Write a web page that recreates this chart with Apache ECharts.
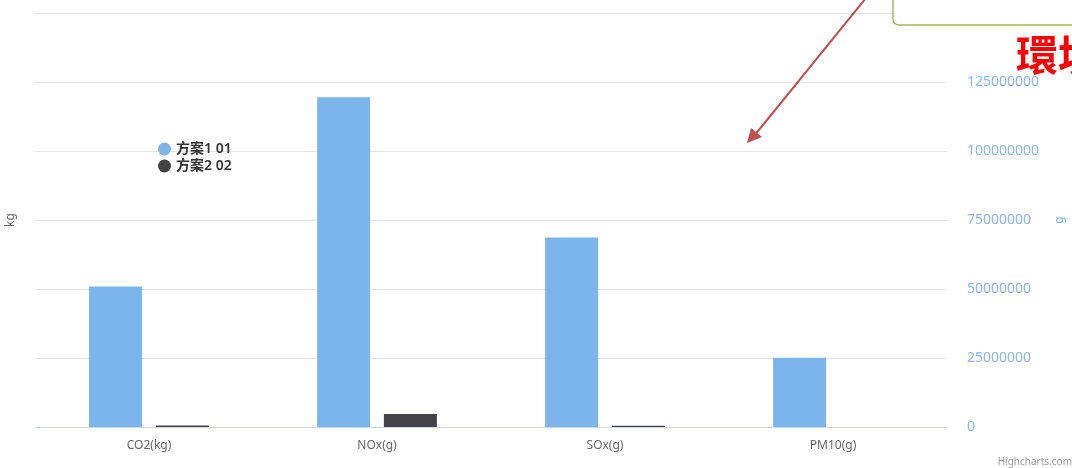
<!DOCTYPE html>
<html>
<head>
    <meta charset="utf-8" />
    <script src="https://cdn.jsdelivr.net/npm/echarts@6/dist/echarts.min.js"></script>
    <style>
        html, body { margin: 0; padding: 0; background: #fff; }
        #main { width: 1072px; height: 468px; }
    </style>
</head>
<body>
    <div id="main"></div>
    <script>
        // 数据
        var categories = ['CO2(kg)', 'NOx(g)', 'SOx(g)', 'PM10(g)']
        var plan1 = [50900000, 119500000, 68700000, 25100000]
        var plan2 = [500000, 4700000, 450000, 0]
        var seriesNames = ['方案1 01', '方案2 02']

        var font = '"Noto Sans", "Noto Sans CJK SC", sans-serif'

        var chart = echarts.init(document.getElementById('main'))

        var option = {
            animation: false,
            textStyle: { fontFamily: font },
            color: ['#7cb5ec', '#434348'],
            legend: {
                orient: 'vertical',
                left: 153,
                top: 137,
                icon: 'circle',
                itemWidth: 13,
                itemHeight: 13,
                itemGap: 3,
                textStyle: { color: '#333', fontSize: 14, fontWeight: 600, fontFamily: font },
                data: seriesNames
            },
            grid: {
                left: 35,
                right: 125,
                top: 13,
                bottom: 41,
                outerBoundsMode: 'none'
            },
            xAxis: {
                type: 'category',
                data: categories,
                axisTick: { show: false },
                axisLine: { lineStyle: { color: '#ccd6eb' } },
                axisLabel: { color: '#666', fontSize: 12, margin: 13 }
            },
            yAxis: [
                {
                    type: 'value',
                    name: 'kg',
                    nameLocation: 'middle',
                    nameGap: 18,
                    nameRotate: 90,
                    nameTextStyle: { color: '#666', fontSize: 12 },
                    min: 0,
                    max: 150000000,
                    interval: 25000000,
                    axisLabel: { show: false },
                    axisLine: { show: false },
                    axisTick: { show: false },
                    splitLine: { show: false }
                },
                {
                    type: 'value',
                    name: 'g',
                    position: 'right',
                    nameLocation: 'middle',
                    nameGap: 107,
                    nameRotate: 90,
                    nameTextStyle: { color: '#7cb5ec', fontSize: 12 },
                    min: 0,
                    max: 150000000,
                    interval: 25000000,
                    axisLine: { show: false },
                    axisTick: { show: false },
                    axisLabel: {
                        color: '#8ab8ee',
                        fontSize: 14,
                        margin: 20,
                        align: 'left',
                        formatter: function (v) { return String(v) }
                    },
                    splitLine: { lineStyle: { color: '#e6e6e6' } }
                }
            ],
            series: [
                {
                    name: seriesNames[0],
                    type: 'bar',
                    yAxisIndex: 1,
                    barWidth: 53,
                    barGap: '26%',
                    data: plan1
                },
                {
                    name: seriesNames[1],
                    type: 'bar',
                    yAxisIndex: 1,
                    barWidth: 53,
                    data: plan2
                }
            ],
            graphic: [
                {
                    type: 'rect',
                    z: 100,
                    shape: { x: 893, y: -10, width: 200, height: 35, r: 6 },
                    style: { fill: '#fff', stroke: '#9bbb59', lineWidth: 1.5 }
                },
                {
                    type: 'line',
                    z: 100,
                    shape: { x1: 866, y1: -2, x2: 754, y2: 136 },
                    style: { stroke: '#c0504d', lineWidth: 2 }
                },
                {
                    type: 'polygon',
                    z: 100,
                    shape: { points: [[747, 143], [751, 128], [762, 137]] },
                    style: { fill: '#c0504d' }
                },
                {
                    type: 'text',
                    z: 100,
                    left: 1016,
                    top: 34,
                    style: {
                        text: '環境',
                        fill: '#ff0000',
                        fontSize: 42,
                        fontWeight: 'bold',
                        fontFamily: '"Noto Sans CJK TC", "Noto Sans CJK SC", sans-serif'
                    }
                },
                {
                    type: 'text',
                    right: 0,
                    bottom: 1,
                    style: {
                        text: 'Highcharts.com',
                        fill: '#999',
                        fontSize: 10,
                        fontFamily: font
                    }
                }
            ]
        };

        chart.setOption(option);
    </script>
</body>
</html>
